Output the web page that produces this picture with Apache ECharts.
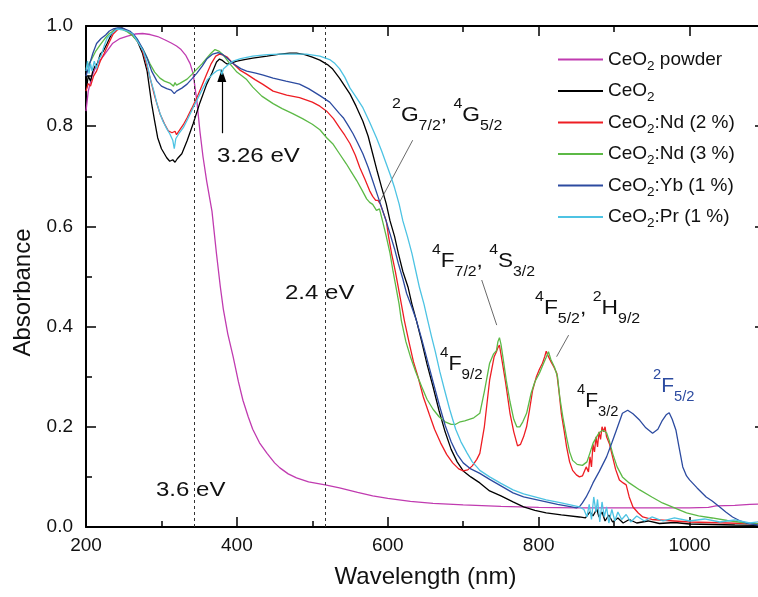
<!DOCTYPE html>
<html>
<head>
<meta charset="utf-8">
<script src="https://cdn.jsdelivr.net/npm/echarts@6/dist/echarts.min.js"></script>
<style>
  html, body { margin: 0; padding: 0; background: #fff; }
  #chart { width: 758px; height: 597px; }
</style>
</head>
<body>
<div id="chart"></div>
<script>
// Absorption spectra of CeO2 films and doped films, wavelength (nm) vs absorbance.
const xTicksMajor = [200, 400, 600, 800, 1000];
const yTickLabels = ['0.0', '0.2', '0.4', '0.6', '0.8', '1.0'];

const seriesNames = ['CeO2 powder', 'CeO2', 'CeO2:Nd (2 %)', 'CeO2:Nd (3 %)', 'CeO2:Yb (1 %)', 'CeO2:Pr (1 %)'];
const seriesColors = ['#c03bb0', '#000000', '#ee1d23', '#5cb946', '#2c4ba0', '#4dc3e3'];

const ceo2Powder = [[200,0.83],[203,0.87],[208,0.9],[215,0.925],[223,0.94],[235,0.965],[245,0.975],[255,0.98],[265,0.984],[275,0.985],[285,0.983],[295,0.979],[305,0.972],[313,0.966],[320,0.96],[326,0.953],[332,0.942],[338,0.925],[342,0.905],[347,0.85],[351,0.79],[355,0.74],[360,0.69],[367,0.63],[373,0.545],[378,0.48],[382,0.435],[388,0.385],[395,0.34],[402,0.29],[408,0.253],[415,0.22],[421,0.195],[430,0.168],[440,0.147],[450,0.128],[457,0.118],[468,0.106],[479,0.098],[495,0.09],[517,0.084],[536,0.078],[560,0.069],[580,0.062],[600,0.057],[630,0.051],[660,0.047],[700,0.044],[750,0.041],[800,0.039],[850,0.038],[900,0.038],[950,0.038],[1000,0.038],[1025,0.039],[1035,0.042],[1060,0.043],[1080,0.045],[1100,0.046]];

const ceo2 = [[200,0.87],[203,0.9],[206,0.89],[209,0.91],[212,0.92],[215,0.925],[219,0.944],[223,0.95],[228,0.965],[232,0.978],[236,0.99],[242,0.995],[248,0.996],[255,0.99],[262,0.982],[268,0.97],[275,0.945],[281,0.91],[287,0.845],[291,0.81],[295,0.777],[300,0.755],[307,0.737],[311,0.73],[315,0.733],[318,0.728],[321,0.735],[327,0.745],[334,0.771],[342,0.805],[351,0.847],[360,0.884],[367,0.906],[373,0.928],[377,0.934],[380,0.932],[384,0.927],[387,0.924],[392,0.926],[400,0.93],[410,0.933],[421,0.936],[440,0.94],[457,0.944],[470,0.946],[479,0.946],[490,0.943],[500,0.938],[510,0.932],[520,0.923],[527,0.914],[536,0.896],[543,0.88],[550,0.864],[558,0.84],[567,0.81],[574,0.78],[580,0.745],[586,0.71],[592,0.677],[598,0.645],[603,0.611],[609,0.58],[614,0.546],[620,0.51],[627,0.478],[632,0.445],[638,0.412],[645,0.37],[652,0.325],[660,0.28],[668,0.232],[676,0.19],[684,0.155],[692,0.13],[700,0.112],[710,0.1],[722,0.088],[735,0.072],[750,0.062],[766,0.05],[780,0.04],[795,0.033],[810,0.028],[830,0.024],[854,0.02],[862,0.018],[868,0.03],[872,0.022],[877,0.036],[880,0.02],[884,0.03],[888,0.012],[893,0.024],[898,0.01],[905,0.018],[912,0.008],[920,0.015],[930,0.008],[945,0.012],[960,0.007],[980,0.009],[1000,0.006],[1030,0.005],[1060,0.004],[1100,0.003]];

const ceo2Nd2 = [[200,0.87],[203,0.885],[206,0.88],[210,0.9],[214,0.91],[219,0.93],[224,0.945],[230,0.965],[236,0.984],[242,0.993],[248,0.995],[255,0.99],[262,0.982],[268,0.97],[274,0.955],[280,0.925],[285,0.896],[291,0.86],[298,0.825],[304,0.805],[309,0.791],[314,0.787],[318,0.79],[320,0.783],[324,0.792],[329,0.803],[334,0.817],[340,0.835],[347,0.857],[354,0.882],[360,0.904],[366,0.925],[372,0.94],[377,0.944],[382,0.942],[387,0.938],[395,0.925],[404,0.912],[413,0.904],[424,0.893],[434,0.884],[448,0.87],[466,0.862],[483,0.857],[500,0.848],[510,0.84],[519,0.83],[528,0.815],[536,0.797],[543,0.782],[550,0.765],[557,0.742],[563,0.717],[570,0.693],[576,0.671],[580,0.66],[584,0.652],[587,0.652],[590,0.645],[594,0.628],[598,0.611],[601,0.58],[605,0.546],[610,0.51],[614,0.478],[618,0.445],[622,0.412],[628,0.37],[634,0.33],[640,0.3],[647,0.26],[655,0.225],[662,0.195],[670,0.168],[678,0.145],[686,0.128],[694,0.116],[700,0.112],[706,0.114],[712,0.122],[718,0.135],[722,0.147],[728,0.2],[735,0.293],[741,0.34],[744,0.35],[746,0.358],[748,0.363],[750,0.345],[752,0.327],[756,0.29],[762,0.227],[767,0.19],[772,0.162],[776,0.165],[780,0.18],[784,0.2],[788,0.235],[792,0.273],[797,0.3],[801,0.315],[805,0.327],[808,0.34],[810,0.351],[813,0.34],[817,0.328],[820,0.32],[824,0.307],[827,0.27],[830,0.227],[834,0.19],[837,0.16],[841,0.13],[845,0.113],[850,0.104],[854,0.1],[858,0.102],[863,0.12],[866,0.11],[868,0.14],[870,0.12],[872,0.165],[874,0.15],[876,0.18],[878,0.16],[880,0.19],[882,0.175],[884,0.2],[886,0.19],[888,0.2],[890,0.18],[894,0.165],[898,0.14],[902,0.115],[907,0.094],[912,0.088],[916,0.084],[920,0.06],[925,0.04],[932,0.028],[938,0.02],[950,0.015],[980,0.012],[1000,0.01],[1050,0.008],[1100,0.006]];

const ceo2Nd3 = [[200,0.915],[204,0.925],[208,0.935],[213,0.95],[219,0.963],[225,0.975],[231,0.985],[236,0.99],[241,0.994],[248,0.993],[255,0.988],[262,0.98],[268,0.97],[275,0.955],[280,0.94],[285,0.924],[291,0.908],[298,0.896],[304,0.89],[311,0.886],[316,0.88],[318,0.887],[320,0.882],[325,0.886],[334,0.894],[340,0.903],[347,0.914],[354,0.925],[360,0.936],[366,0.946],[371,0.953],[376,0.95],[382,0.942],[390,0.926],[400,0.908],[413,0.893],[421,0.878],[433,0.86],[448,0.845],[460,0.835],[474,0.825],[487,0.815],[500,0.804],[510,0.793],[519,0.777],[527,0.765],[536,0.745],[545,0.725],[552,0.708],[559,0.691],[566,0.672],[572,0.655],[576,0.648],[580,0.644],[585,0.632],[589,0.635],[593,0.611],[598,0.58],[603,0.546],[607,0.51],[611,0.478],[615,0.445],[618,0.412],[624,0.37],[630,0.34],[637,0.31],[645,0.28],[652,0.255],[660,0.235],[668,0.22],[676,0.21],[684,0.205],[690,0.205],[696,0.21],[702,0.212],[708,0.215],[714,0.218],[722,0.227],[728,0.27],[735,0.327],[740,0.345],[744,0.352],[746,0.37],[748,0.378],[750,0.365],[753,0.335],[757,0.293],[762,0.25],[767,0.215],[771,0.2],[775,0.2],[779,0.21],[784,0.227],[790,0.267],[795,0.29],[801,0.307],[806,0.325],[810,0.339],[813,0.35],[816,0.335],[821,0.319],[825,0.3],[828,0.259],[832,0.22],[837,0.179],[841,0.15],[845,0.133],[851,0.125],[858,0.123],[864,0.13],[868,0.148],[872,0.167],[876,0.178],[880,0.188],[885,0.193],[890,0.188],[894,0.17],[898,0.147],[904,0.12],[911,0.1],[920,0.088],[934,0.074],[950,0.06],[964,0.048],[980,0.038],[996,0.028],[1012,0.022],[1030,0.018],[1050,0.013],[1075,0.008],[1100,0.005]];

const ceo2Yb1 = [[200,0.9],[204,0.92],[209,0.945],[214,0.965],[220,0.975],[226,0.982],[231,0.99],[236,0.994],[242,0.996],[250,0.995],[258,0.99],[264,0.982],[268,0.974],[275,0.955],[281,0.936],[287,0.91],[294,0.89],[300,0.88],[307,0.875],[313,0.872],[317,0.865],[320,0.87],[327,0.876],[334,0.884],[340,0.894],[347,0.906],[354,0.92],[360,0.934],[368,0.944],[375,0.947],[380,0.944],[387,0.936],[395,0.925],[405,0.915],[413,0.91],[425,0.906],[435,0.902],[448,0.896],[465,0.89],[483,0.884],[495,0.875],[510,0.861],[523,0.848],[536,0.825],[541,0.817],[548,0.8],[554,0.785],[560,0.767],[567,0.745],[574,0.718],[580,0.691],[586,0.664],[592,0.637],[598,0.61],[603,0.585],[609,0.555],[614,0.526],[620,0.495],[625,0.466],[632,0.438],[638,0.412],[645,0.375],[652,0.335],[660,0.29],[668,0.245],[676,0.203],[684,0.17],[692,0.145],[700,0.128],[710,0.116],[722,0.107],[735,0.095],[750,0.082],[766,0.068],[780,0.06],[795,0.055],[810,0.05],[825,0.045],[840,0.041],[850,0.038],[855,0.042],[858,0.048],[863,0.06],[868,0.075],[872,0.088],[880,0.11],[890,0.14],[897,0.168],[903,0.193],[911,0.227],[918,0.233],[925,0.226],[934,0.213],[942,0.198],[951,0.187],[958,0.195],[964,0.213],[969,0.224],[973,0.228],[977,0.215],[982,0.193],[986,0.16],[991,0.12],[996,0.102],[1000,0.094],[1010,0.078],[1022,0.06],[1030,0.052],[1040,0.04],[1048,0.03],[1057,0.02],[1066,0.013],[1075,0.008],[1090,0.004],[1100,0.003]];

const ceo2Pr1 = [[200,0.91],[202,0.93],[204,0.905],[206,0.925],[208,0.91],[211,0.93],[214,0.915],[217,0.935],[220,0.94],[224,0.96],[228,0.976],[234,0.985],[241,0.994],[248,0.993],[255,0.99],[262,0.984],[268,0.97],[276,0.95],[281,0.925],[285,0.896],[290,0.87],[294,0.845],[298,0.826],[302,0.81],[307,0.795],[311,0.785],[315,0.772],[317,0.755],[319,0.775],[323,0.785],[329,0.797],[335,0.815],[342,0.837],[348,0.855],[355,0.876],[361,0.893],[368,0.904],[374,0.911],[378,0.913],[380,0.903],[382,0.914],[388,0.922],[395,0.93],[405,0.935],[421,0.94],[440,0.943],[457,0.944],[475,0.944],[492,0.944],[510,0.94],[523,0.933],[530,0.925],[536,0.915],[543,0.898],[550,0.876],[558,0.858],[567,0.837],[576,0.808],[585,0.777],[592,0.75],[598,0.725],[604,0.7],[609,0.677],[615,0.645],[620,0.611],[626,0.58],[632,0.546],[637,0.512],[642,0.478],[648,0.445],[653,0.412],[658,0.38],[663,0.35],[669,0.31],[675,0.275],[682,0.235],[690,0.195],[697,0.17],[705,0.148],[712,0.13],[718,0.12],[722,0.113],[735,0.1],[750,0.087],[766,0.074],[780,0.066],[795,0.06],[810,0.054],[830,0.048],[854,0.04],[860,0.035],[864,0.02],[867,0.045],[870,0.015],[873,0.06],[876,0.03],[878,0.055],[881,0.01],[884,0.05],[887,0.02],[890,0.04],[893,0.008],[897,0.035],[901,0.012],[905,0.03],[910,0.015],[916,0.025],[922,0.01],[930,0.022],[940,0.012],[950,0.02],[965,0.012],[980,0.018],[1000,0.012],[1020,0.016],[1040,0.01],[1060,0.014],[1080,0.008],[1100,0.012]];

const seriesData = [ceo2Powder, ceo2, ceo2Nd2, ceo2Nd3, ceo2Yb1, ceo2Pr1];

// Band-gap reference wavelengths (3.6 eV and 2.4 eV) and the 3.26 eV arrow
const gapLines = [344, 517];
const arrow326 = [[380, 0.786], [380, 0.901]];
// Leader lines from level labels to the absorption features
const leaders = [
  [[633, 0.772], [589, 0.648]],
  [[724.5, 0.493], [744.4, 0.403]],
  [[839.7, 0.383], [823.8, 0.340]]
];

const FONT = '"Liberation Sans", Arial, Helvetica, sans-serif';
const chart = echarts.init(document.getElementById('chart'), null, { renderer: 'canvas' });

function frameAxis(pos, interval, tickLen, showLine) {
  return {
    type: 'value', position: pos, min: pos === 'left' || pos === 'right' ? 0 : 200,
    max: pos === 'left' || pos === 'right' ? 1 : 1100, interval: interval,
    axisLine: { show: showLine, onZero: false, lineStyle: { color: '#000', width: 2 } },
    axisTick: { show: true, inside: true, length: tickLen, lineStyle: { color: '#000', width: 1.5 } },
    axisLabel: { show: false }, splitLine: { show: false }
  };
}

const legendRich = {
  m: { fontSize: 19, fontFamily: FONT, color: '#111', verticalAlign: 'middle' },
  s: { fontSize: 13.5, fontFamily: FONT, color: '#111', verticalAlign: 'middle', padding: [13, 0, 0, 0] }
};

const series = seriesNames.map((name, i) => ({
  name: name, type: 'line', data: seriesData[i], xAxisIndex: 0, yAxisIndex: 0,
  symbol: 'none', smooth: false, silent: true,
  lineStyle: { color: seriesColors[i], width: 1.3 },
  itemStyle: { color: seriesColors[i] },
  z: 2 + i
}));

series[0].markLine = {
  silent: true, symbol: 'none', animation: false,
  label: { show: false },
  lineStyle: { color: '#333', width: 1, type: [3, 3] },
  data: gapLines.map(v => ({ xAxis: v }))
};
series[1].markLine = {
  silent: true, animation: false, label: { show: false },
  symbol: ['none', 'none'],
  data: [
    [{ coord: arrow326[0], symbol: 'none', lineStyle: { color: '#000', width: 1.2, type: 'solid' } },
     { coord: arrow326[1], symbol: 'triangle', symbolSize: [9, 13] }]
  ].concat(leaders.map(l => [
    { coord: l[0], lineStyle: { color: '#444', width: 0.8, type: 'solid' } },
    { coord: l[1] }
  ]))
};

// Text annotation: main glyphs, superscripts {p|} and subscripts {b|}
function ann(x, y, text, stretch, color) {
  const c = color || '#111';
  return {
    type: 'text', x: x, y: y, scaleX: stretch, silent: true, z: 100,
    style: {
      text: text, align: 'left', verticalAlign: 'middle', fill: c,
      rich: {
        m: { fontSize: 20, fontFamily: FONT, fill: c, verticalAlign: 'middle' },
        p: { fontSize: 14, fontFamily: FONT, fill: c, verticalAlign: 'middle', padding: [0, 0, 22, 0] },
        b: { fontSize: 14, fontFamily: FONT, fill: c, verticalAlign: 'middle', padding: [22, 0, 0, 0] }
      }
    }
  };
}

const option = {
  animation: false,
  backgroundColor: '#fff',
  grid: { left: 86, right: -7, top: 26, bottom: 70, outerBoundsMode: 'none', containLabel: false },
  xAxis: [
    {
      type: 'value', position: 'bottom', min: 200, max: 1100, interval: 200,
      axisLine: { onZero: false, lineStyle: { color: '#000', width: 2 } },
      axisTick: { inside: true, length: 10, lineStyle: { color: '#000', width: 1.5 } },
      axisLabel: { fontSize: 19, fontFamily: FONT, color: '#111', margin: 9, showMaxLabel: false,
        formatter: v => (xTicksMajor.indexOf(v) >= 0 ? String(v) : '') },
      splitLine: { show: false },
      name: 'Wavelength (nm)', nameLocation: 'middle', nameGap: 38,
      nameTextStyle: { fontSize: 24, fontFamily: FONT, color: '#111' }
    },
    frameAxis('bottom', 100, 6, false),
    frameAxis('top', 200, 10, true),
    frameAxis('top', 100, 6, false)
  ],
  yAxis: [
    {
      type: 'value', position: 'left', min: 0, max: 1, interval: 0.2,
      axisLine: { onZero: false, lineStyle: { color: '#000', width: 2 } },
      axisTick: { inside: true, length: 10, lineStyle: { color: '#000', width: 1.5 } },
      minorTick: { show: true, splitNumber: 2, length: 6, lineStyle: { color: '#000', width: 1.5 } },
      axisLabel: { fontSize: 19, fontFamily: FONT, color: '#111', margin: 13,
        formatter: v => yTickLabels[Math.round(v * 5)] },
      splitLine: { show: false }, minorSplitLine: { show: false },
      name: 'Absorbance', nameLocation: 'middle', nameRotate: 90, nameGap: 48,
      nameTextStyle: { fontSize: 24, fontFamily: FONT, color: '#111', padding: [0, 32, 0, 0] }
    },
    Object.assign(frameAxis('right', 0.2, 10, true),
      { minorTick: { show: true, splitNumber: 2, length: 6, lineStyle: { color: '#000', width: 1.5 } } })
  ],
  legend: {
    orient: 'vertical', left: 557, top: 50, padding: 0, itemWidth: 45, itemHeight: 10, itemGap: 8.5,
    selectedMode: false, data: seriesNames,
    itemStyle: { opacity: 0 },
    formatter: name => '{m|CeO}{s|2}{m|' + name.slice(4) + '}',
    textStyle: { fontSize: 19, fontFamily: FONT, color: '#111', rich: legendRich }
  },
  series: series,
  graphic: [
    ann(217, 156, '{m|3.26 eV}', 1.2),
    ann(156, 490, '{m|3.6 eV}', 1.2),
    ann(285, 293, '{m|2.4 eV}', 1.2),
    ann(392, 115, '{p|2}{m|G}{b|7/2}{m|, }{p|4}{m|G}{b|5/2}', 1.14),
    ann(432, 261, '{p|4}{m|F}{b|7/2}{m|, }{p|4}{m|S}{b|3/2}', 1.13),
    ann(440, 364, '{p|4}{m|F}{b|9/2}', 1.08),
    ann(535, 308, '{p|4}{m|F}{b|5/2}{m|, }{p|2}{m|H}{b|9/2}', 1.14),
    ann(577, 401, '{p|4}{m|F}{b|3/2}', 1.05),
    ann(653, 386, '{p|2}{m|F}{b|5/2}', 1.05, '#2c4ba0')
  ]
};

chart.setOption(option);
</script>
</body>
</html>
